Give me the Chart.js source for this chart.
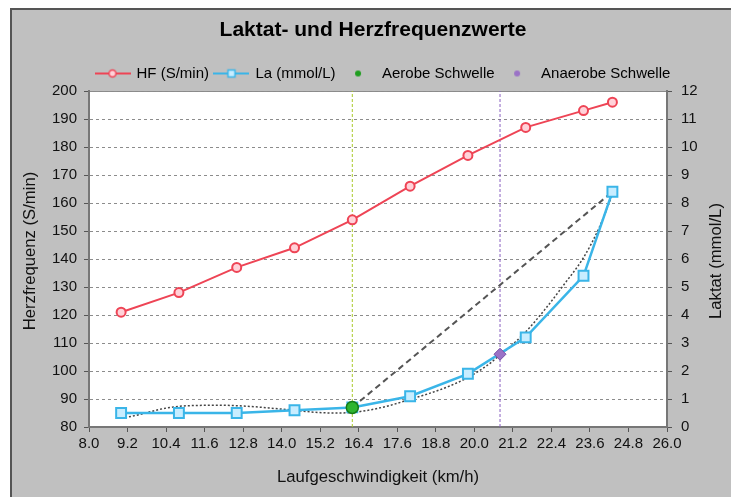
<!DOCTYPE html>
<html>
<head>
<meta charset="utf-8">
<script src="https://cdn.jsdelivr.net/npm/chart.js@4.4.1/dist/chart.umd.min.js"></script>
<style>
  html, body { margin: 0; padding: 0; background: #fff; }
  #wrap { width: 731px; height: 497px; }
  canvas { display: block; }
</style>
</head>
<body>
<div id="wrap"><canvas id="chart" width="731" height="497"></canvas></div>
<script>
// Stufentest: Geschwindigkeit, Herzfrequenz und Laktat je Stufe
const speeds    = [9.0, 10.8, 12.6, 14.4, 16.2, 18.0, 19.8, 21.6, 23.4, 24.3];
const heartRate = [121, 128, 137, 144, 154, 166, 177, 187, 193, 196];
const lactate   = [0.5, 0.5, 0.5, 0.6, 0.7, 1.1, 1.9, 3.2, 5.4, 8.4];

// Schwellen (Geschwindigkeit, Laktat)
const aerobicSpeed = 16.2, aerobicLactate = 0.7;
const anaerobicSpeed = 20.8, anaerobicLactate = 2.6;

// Ausgleichskurve der Laktatwerte
const trendSpeeds  = [9.0, 9.6, 10.2, 10.8, 11.4, 12.0, 12.6, 13.2, 13.8, 14.4, 15.0, 15.6, 16.2, 16.8, 17.4, 18.0, 18.6, 19.2, 19.8, 20.4, 20.8, 21.0, 21.6, 22.2, 22.8, 23.4, 23.9, 24.3];
const trendLactate = [0.31, 0.45, 0.63, 0.74, 0.77, 0.78, 0.76, 0.72, 0.66, 0.60, 0.53, 0.50, 0.52, 0.62, 0.78, 0.99, 1.20, 1.45, 1.77, 2.20, 2.57, 2.75, 3.40, 4.20, 5.10, 6.05, 7.15, 8.30];

// Achsen
const xTicksMin = 8.0, xTicksMax = 26.0, xStep = 1.2;
const hfMin = 80, hfMax = 200, hfStep = 10;
const laMin = 0, laMax = 12, laStep = 1;

const FONT = "'Liberation Sans', Arial, Helvetica, sans-serif";
const TEXT = '#111';
const RED = '#ee4455', BLUE = '#3ab5e8', GREEN = '#1f9e1f', PURPLE = '#9a72c6';

const zip = (xs, ys) => xs.map((x, i) => ({ x, y: ys[i] }));

// small line+marker symbols for the legend
function symbol(kind) {
  const c = document.createElement('canvas');
  c.width = 36; c.height = 14;
  const g = c.getContext('2d');
  if (kind === 'hf' || kind === 'la') {
    g.strokeStyle = kind === 'hf' ? RED : BLUE;
    g.lineWidth = 2;
    g.beginPath(); g.moveTo(0, 7); g.lineTo(36, 7); g.stroke();
    g.lineWidth = 1.5;
    if (kind === 'hf') {
      g.fillStyle = '#ffd2d9';
      g.beginPath(); g.arc(18, 7, 3.5, 0, Math.PI * 2); g.fill(); g.stroke();
    } else {
      g.fillStyle = '#c8edff';
      g.fillRect(14.5, 3.5, 7, 7); g.strokeRect(14.5, 3.5, 7, 7);
    }
  } else {
    g.fillStyle = kind === 'aer' ? GREEN : PURPLE;
    g.beginPath(); g.arc(18, 7, 3, 0, Math.PI * 2); g.fill();
  }
  return c;
}

const frame = {
  id: 'frame',
  beforeDraw(chart) {
    const { ctx, chartArea: a, width, height } = chart;
    ctx.save();
    ctx.fillStyle = '#fff';
    ctx.fillRect(0, 0, width, height);
    ctx.fillStyle = '#c0c0c0';
    ctx.fillRect(10, 8, width, height);
    ctx.strokeStyle = '#555';
    ctx.lineWidth = 2;
    ctx.strokeRect(11, 9, width + 20, height + 20);
    ctx.fillStyle = '#fff';
    ctx.fillRect(a.left, a.top, a.right - a.left, a.bottom - a.top);
    ctx.strokeStyle = '#8a8a8a';
    ctx.lineWidth = 1;
    ctx.strokeRect(a.left + 0.5, a.top + 0.5, a.right - a.left - 1, a.bottom - a.top - 1);
    ctx.restore();
  }
};

// vertical axis titles, both reading bottom to top
const sideTitles = {
  id: 'sideTitles',
  afterDraw(chart) {
    const { ctx } = chart;
    const items = [
      ['Herzfrequenz (S/min)', 30, 251],
      ['Laktat (mmol/L)', 716, 261]
    ];
    ctx.save();
    ctx.font = `16.7px ${FONT}`;
    ctx.fillStyle = TEXT;
    ctx.textAlign = 'center';
    ctx.textBaseline = 'middle';
    for (const [t, x, y] of items) {
      ctx.save();
      ctx.translate(x, y);
      ctx.rotate(-Math.PI / 2);
      ctx.fillText(t, 0, 0);
      ctx.restore();
    }
    ctx.restore();
  }
};

// header block sits a little right of the canvas centre
const headerOffset = {
  id: 'headerOffset',
  afterLayout(chart) {
    const lg = chart.legend;
    if (lg && lg.lineWidths) {
      const pad = lg.options.labels.padding;
      const x0 = (lg.left + pad + lg.right - lg.lineWidths[0]) / 2;
      const dx = 96 - x0;
      lg.left += dx; lg.right += dx;
    }
    const tb = chart.titleBlock;
    if (tb) { tb.left += 7.5; tb.right += 7.5; }
  }
};

const tickFont = { family: FONT, size: 15 };

new Chart(document.getElementById('chart'), {
  type: 'line',
  data: {
    datasets: [
      {
        label: 'HF (S/min)', legendSymbol: symbol('hf'),
        data: zip(speeds, heartRate), yAxisID: 'yHF',
        borderColor: RED, borderWidth: 2, tension: 0,
        pointStyle: 'circle', pointRadius: 4.5, pointBorderWidth: 2,
        pointBackgroundColor: '#ffd2d9', pointBorderColor: RED, order: 5
      },
      {
        label: 'La (mmol/L)', legendSymbol: symbol('la'),
        data: zip(speeds, lactate), yAxisID: 'yLa',
        borderColor: BLUE, borderWidth: 2.5, tension: 0,
        pointStyle: 'rect', pointRadius: 7, pointBorderWidth: 2,
        pointBackgroundColor: '#c8edff', pointBorderColor: BLUE, order: 4
      },
      {
        label: 'Aerobe Schwelle', legendSymbol: symbol('aer'),
        data: [{ x: aerobicSpeed, y: aerobicLactate }], yAxisID: 'yLa',
        showLine: false, pointStyle: 'circle', pointRadius: 6, pointBorderWidth: 1.5,
        pointBackgroundColor: '#2fb52f', pointBorderColor: '#167a16', order: 1
      },
      {
        label: 'Anaerobe Schwelle', legendSymbol: symbol('ana'),
        data: [{ x: anaerobicSpeed, y: anaerobicLactate }], yAxisID: 'yLa',
        showLine: false, pointStyle: 'rectRot', pointRadius: 6, pointBorderWidth: 1,
        pointBackgroundColor: PURPLE, pointBorderColor: '#7a50a8', order: 2
      },
      {
        label: 'Ausgleichskurve',
        data: zip(trendSpeeds, trendLactate), yAxisID: 'yLa',
        borderColor: '#444', borderWidth: 1.5, borderDash: [2, 2],
        pointRadius: 0, tension: 0.4, cubicInterpolationMode: 'monotone', order: 8
      },
      {
        label: 'Dmax-Gerade',
        data: [{ x: aerobicSpeed, y: aerobicLactate }, { x: speeds[speeds.length - 1], y: lactate[lactate.length - 1] }],
        yAxisID: 'yLa',
        borderColor: '#555', borderWidth: 2, borderDash: [6, 4], pointRadius: 0, order: 7
      },
      {
        label: 'Aerob',
        data: [{ x: aerobicSpeed, y: laMin }, { x: aerobicSpeed, y: laMax }], yAxisID: 'yLa',
        borderColor: '#a9c92a', borderWidth: 1, borderDash: [3, 2], pointRadius: 0, order: 10
      },
      {
        label: 'Anaerob',
        data: [{ x: anaerobicSpeed, y: laMin }, { x: anaerobicSpeed, y: laMax }], yAxisID: 'yLa',
        borderColor: '#8a60c0', borderWidth: 1, borderDash: [3, 2], pointRadius: 0, order: 10
      }
    ]
  },
  options: {
    responsive: false,
    animation: false,
    devicePixelRatio: 1,
    layout: { padding: 0 },
    plugins: {
      tooltip: { enabled: false },
      title: {
        display: true,
        text: 'Laktat- und Herzfrequenzwerte',
        color: '#000',
        font: { family: FONT, size: 21, weight: 'bold' },
        padding: { top: 17.4, bottom: 17.4 }
      },
      legend: {
        display: true,
        position: 'top',
        labels: {
          usePointStyle: true,
          pointStyleWidth: 33,
          padding: 6,
          color: TEXT,
          font: { family: FONT, size: 15 },
          generateLabels: (chart) => chart.data.datasets
            .map((ds, i) => ({
              text: ds.label, pointStyle: ds.legendSymbol, datasetIndex: i,
              hidden: false, lineWidth: 0, fillStyle: 'rgba(0,0,0,0)', strokeStyle: 'rgba(0,0,0,0)'
            }))
            .filter(it => it.pointStyle)
        }
      }
    },
    scales: {
      x: {
        type: 'linear', position: 'bottom',
        min: xTicksMin, max: xTicksMax,
        afterFit: (s) => { s.height = 70; },
        ticks: {
          stepSize: xStep, autoSkip: false, maxRotation: 0, padding: 3,
          color: TEXT, font: tickFont,
          callback: (v) => Number(v).toFixed(1)
        },
        grid: { drawOnChartArea: false, tickLength: 5, tickColor: '#555', tickWidth: 1 },
        border: { color: '#777', width: 2 },
        title: {
          display: true, text: 'Laufgeschwindigkeit (km/h)', color: TEXT,
          font: { family: FONT, size: 16.7 }, padding: { top: 0, bottom: 10 }
        }
      },
      yHF: {
        type: 'linear', position: 'left',
        min: hfMin, max: hfMax,
        afterFit: (s) => { s.width = 89; },
        ticks: { stepSize: hfStep, padding: 7, color: TEXT, font: tickFont },
        grid: { color: '#8c8c8c', lineWidth: 1, tickLength: 5, tickColor: '#555', tickWidth: 1 },
        border: { color: '#777', width: 2, dash: [3, 3] }
      },
      yLa: {
        type: 'linear', position: 'right',
        min: laMin, max: laMax,
        afterFit: (s) => { s.width = 64; },
        ticks: { stepSize: laStep, padding: 9, color: TEXT, font: tickFont },
        grid: { drawOnChartArea: false, tickLength: 5, tickColor: '#555', tickWidth: 1 },
        border: { color: '#777', width: 2 }
      }
    }
  },
  plugins: [frame, sideTitles, headerOffset]
});
</script>
</body>
</html>
